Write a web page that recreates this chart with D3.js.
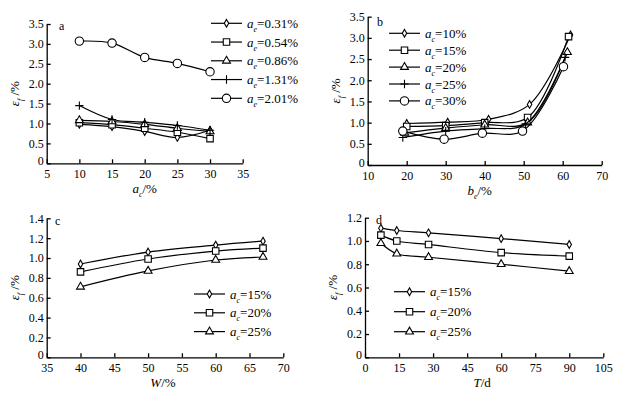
<!DOCTYPE html>
<html lang="en">
<head>
  <style>
    body { margin: 0; background: #fff; }
    text { font-family: "Liberation Serif", "DejaVu Serif", serif; fill: #000; }
    .tick text { font-size: 12px; }
    .axis path, .axis line { stroke: #000; stroke-width: 1.3px; }
    .curve { fill: none; stroke: #000; stroke-width: 1.2px; }
    .mark { fill: #fff; stroke: #000; stroke-width: 1.1px; }
  </style>
  <script src="https://d3js.org/d3.v7.min.js"></script>
</head>
<body>
  <script>
    // panel a: eps_f vs a_c for several a_e
    const aX = [10, 15, 20, 25, 30];
    const aNames = ["0.31%", "0.54%", "0.86%", "1.31%", "2.01%"];
    const aE031 = [0.98, 0.92, 0.80, 0.65, 0.83];
    const aE054 = [1.02, 0.97, 0.88, 0.78, 0.62];
    const aE086 = [1.08, 1.05, 0.98, 0.88, 0.80];
    const aE131 = [1.45, 1.10, 1.03, 0.95, 0.83];
    const aE201 = [3.07, 3.02, 2.66, 2.51, 2.30];

    // panel b: eps_f vs b_e for several a_c
    const bNames = ["10%", "15%", "20%", "25%", "30%"];
    const bX10 = [20, 30.5, 41, 51.5, 62], bY10 = [0.98, 1.01, 1.08, 1.43, 3.07];
    const bX15 = [20, 30, 40, 51, 61.5], bY15 = [0.91, 0.93, 1.00, 1.12, 3.03];
    const bX20 = [19.5, 30, 40, 51, 61.2], bY20 = [0.76, 0.87, 0.95, 1.00, 2.66];
    const bX25 = [19, 30, 40, 50.5, 60.6], bY25 = [0.65, 0.80, 0.86, 0.97, 2.54];
    const bX30 = [19, 29.6, 39.4, 49.7, 60.2], bY30 = [0.80, 0.61, 0.75, 0.80, 2.32];

    // panel c: eps_f vs W
    const cX = [40, 50, 60, 67];
    const cNames = ["15%", "20%", "25%"];
    const cC15 = [0.94, 1.06, 1.13, 1.17];
    const cC20 = [0.86, 0.99, 1.07, 1.10];
    const cC25 = [0.71, 0.87, 0.98, 1.01];

    // panel d: eps_f vs T
    const dX = [7, 14, 28, 60, 90];
    const dNames = ["15%", "20%", "25%"];
    const dC15 = [1.11, 1.09, 1.07, 1.02, 0.97];
    const dC20 = [1.05, 1.00, 0.97, 0.90, 0.87];
    const dC25 = [0.98, 0.89, 0.86, 0.80, 0.74];

    const plusSymbol = {
      draw(ctx, size) {
        const r = Math.sqrt(size) / 2;
        ctx.moveTo(-r, 0); ctx.lineTo(r, 0);
        ctx.moveTo(0, -r); ctx.lineTo(0, r);
      }
    };
    const shapes = {
      diamond: d3.symbol(d3.symbolDiamond, 17),
      square: d3.symbol(d3.symbolSquare, 42),
      triangle: d3.symbol(d3.symbolTriangle, 27),
      plus: d3.symbol(plusSymbol, 70),
      circle: d3.symbol(d3.symbolCircle, 55)
    };

    const svg = d3.select("body").append("svg")
      .attr("width", 628).attr("height", 393);

    function subLabel(sel, main, sub, rest) {
      sel.append("tspan").attr("font-style", "italic").text(main);
      sel.append("tspan").attr("font-style", "italic").attr("font-size", "8px")
        .attr("baseline-shift", "-4px").text(sub);
      sel.append("tspan").text(rest);
    }

    function panel(o) {
      const g = svg.append("g");
      const x = d3.scaleLinear().domain(o.xDomain).range([o.left, o.right]);
      const y = d3.scaleLinear().domain(o.yDomain).range([o.bottom, o.top]);

      g.append("g").attr("class", "axis")
        .attr("transform", `translate(0,${o.bottom})`)
        .call(d3.axisBottom(x).tickValues(o.xTicks).tickSizeInner(-4).tickSizeOuter(0).tickPadding(5))
        .call(s => s.selectAll(".tick text").attr("dy", "0.85em"));
      g.append("g").attr("class", "axis")
        .attr("transform", `translate(${o.left},0)`)
        .call(d3.axisLeft(y).tickValues(o.yTicks).tickSizeInner(-4).tickSizeOuter(0).tickPadding(3)
          .tickFormat(d => d === 0 ? "0" : d3.format(".1f")(d)))
        .call(s => s.selectAll(".tick text").filter(d => d === 0).attr("dy", "0.1em"));

      const line = d3.line().curve(d3.curveCatmullRom.alpha(0.5))
        .x(d => x(d[0])).y(d => y(d[1]));

      o.series.forEach((s, i) => {
        const pts = s.xs.map((v, k) => [v, s.ys[k]]);
        g.append("path").datum(pts).attr("class", "curve").attr("d", line);
        g.selectAll(null).data(pts).join("path")
          .attr("class", "mark")
          .attr("transform", d => `translate(${x(d[0])},${y(d[1])})`)
          .attr("d", shapes[s.shape]);

        // legend row
        const ly = o.legY + i * o.legStep;
        g.append("line").attr("class", "curve")
          .attr("x1", o.legX).attr("x2", o.legX + 31).attr("y1", ly).attr("y2", ly);
        g.append("path").attr("class", "mark")
          .attr("transform", `translate(${o.legX + 15.5},${ly})`)
          .attr("d", shapes[s.shape]);
        const t = g.append("text").attr("x", o.legX + 36).attr("y", ly + 4.5)
          .attr("font-size", "13px");
        subLabel(t, "a", o.legSub, "=" + s.name);
      });

      g.append("text").attr("x", o.tagX).attr("y", o.tagY)
        .attr("font-size", "12px").text(o.tag);

      const xt = g.append("text").attr("x", (o.left + o.right) / 2 + o.xLabShift)
        .attr("y", o.bottom + 30).attr("text-anchor", "middle").attr("font-size", "13px");
      o.xLabel(xt);

      const yt = g.append("text")
        .attr("transform", `translate(${o.left - 28},${(o.top + o.bottom) / 2}) rotate(-90)`)
        .attr("text-anchor", "middle").attr("font-size", "13px");
      subLabel(yt, "ε", "f", " /%");
    }

    const shapeOrder = ["diamond", "square", "triangle", "plus", "circle"];
    const shapeOrder3 = ["diamond", "square", "triangle"];

    panel({
      left: 46.7, right: 242.7, top: 24, bottom: 163.3,
      xDomain: [5, 35], yDomain: [0, 3.5],
      xTicks: [5, 10, 15, 20, 25, 30, 35], yTicks: [0, 0.5, 1, 1.5, 2, 2.5, 3, 3.5],
      series: [aE031, aE054, aE086, aE131, aE201].map((ys, i) =>
        ({ xs: aX, ys, name: aNames[i], shape: shapeOrder[i] })),
      legX: 211, legY: 23.3, legStep: 18.75, legSub: "e",
      tag: "a", tagX: 59, tagY: 30, xLabShift: 0,
      xLabel: t => subLabel(t, "a", "c", "/%")
    });

    panel({
      left: 367.7, right: 601.7, top: 16.7, bottom: 165,
      xDomain: [10, 70], yDomain: [0, 3.5],
      xTicks: [10, 20, 30, 40, 50, 60, 70], yTicks: [0, 0.5, 1, 1.5, 2, 2.5, 3, 3.5],
      series: [[bX10, bY10], [bX15, bY15], [bX20, bY20], [bX25, bY25], [bX30, bY30]].map((p, i) =>
        ({ xs: p[0], ys: p[1], name: bNames[i], shape: shapeOrder[i] })),
      legX: 389, legY: 33.3, legStep: 16.9, legSub: "c",
      tag: "b", tagX: 377, tagY: 26, xLabShift: -5,
      xLabel: t => subLabel(t, "b", "e", "/%")
    });

    panel({
      left: 46.7, right: 283.3, top: 218.3, bottom: 357.3,
      xDomain: [35, 70], yDomain: [0, 1.4],
      xTicks: [35, 40, 45, 50, 55, 60, 65, 70], yTicks: [0, 0.2, 0.4, 0.6, 0.8, 1, 1.2, 1.4],
      series: [cC15, cC20, cC25].map((ys, i) =>
        ({ xs: cX, ys, name: cNames[i], shape: shapeOrder3[i] })),
      legX: 194, legY: 294, legStep: 18.8, legSub: "c",
      tag: "c", tagX: 55, tagY: 225, xLabShift: -2,
      xLabel: t => { t.append("tspan").attr("font-style", "italic").text("W"); t.append("tspan").text("/%"); }
    });

    panel({
      left: 365, right: 603.3, top: 217.7, bottom: 357.3,
      xDomain: [0, 105], yDomain: [0, 1.2],
      xTicks: [0, 15, 30, 45, 60, 75, 90, 105], yTicks: [0, 0.2, 0.4, 0.6, 0.8, 1, 1.2],
      series: [dC15, dC20, dC25].map((ys, i) =>
        ({ xs: dX, ys, name: dNames[i], shape: shapeOrder3[i] })),
      legX: 394, legY: 291.7, legStep: 20, legSub: "c",
      tag: "d", tagX: 376, tagY: 224, xLabShift: -2,
      xLabel: t => { t.append("tspan").attr("font-style", "italic").text("T"); t.append("tspan").text("/d"); }
    });
  </script>
</body>
</html>
